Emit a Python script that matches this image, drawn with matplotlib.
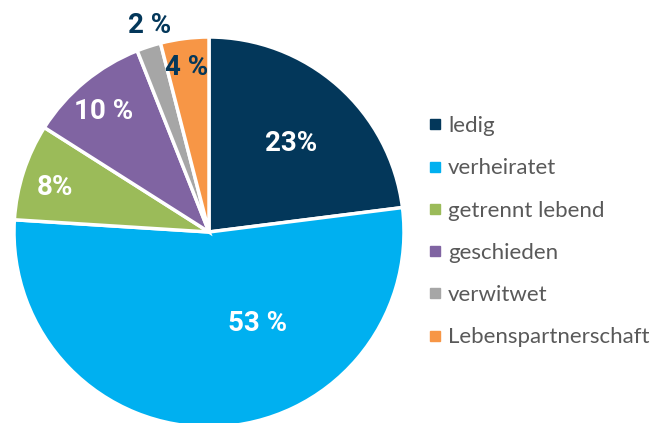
import numpy as np
import matplotlib.pyplot as plt
from matplotlib.lines import Line2D

# Familienstand - Anteile in Prozent
categories = ['ledig', 'verheiratet', 'getrennt lebend', 'geschieden',
              'verwitwet', 'Lebenspartnerschaft']
values = [23, 53, 8, 10, 2, 4]
labels = ['23%', '53 %', '8%', '10 %', '2 %', '4 %']
colors = ['#03375a', '#00b0f0', '#9bbb59', '#8064a2', '#a6a6a6', '#f79646']
label_colors = ['white', 'white', 'white', 'white', '#03375a', '#03375a']
# placement des étiquettes: distance relative au rayon, décalage angulaire
label_dist = [0.62, 0.53, 0.82, 0.82, 1.10, 0.85]
label_shift = [-1.3, 26.0, 2.0, 1.4, -2.0, 0.5]

fig = plt.figure(figsize=(6.64, 4.23), dpi=100)
W, H = 664, 423
cx, cy, r = 209, 232, 195
ax = fig.add_axes([(cx - r) / W, (H - cy - r) / H, 2 * r / W, 2 * r / H])

wedges, _ = ax.pie(values, colors=colors, startangle=90, counterclock=False,
                   radius=1, wedgeprops=dict(edgecolor='white', linewidth=2.5))
ax.set_xlim(-1, 1)
ax.set_ylim(-1, 1)
ax.set_aspect('auto')
ax.axis('off')

for w, lab, col, d, s in zip(wedges, labels, label_colors, label_dist, label_shift):
    ang = np.deg2rad((w.theta1 + w.theta2) / 2 + s)
    ax.text(d * np.cos(ang), d * np.sin(ang), lab, ha='center', va='center',
            color=col, fontsize=20, fontweight='bold', family='Roboto',
            clip_on=False)

handles = [Line2D([], [], marker='s', linestyle='', markersize=7.5,
                  markerfacecolor=c, markeredgecolor=c) for c in colors]
fig.legend(handles, categories, loc='center left', bbox_to_anchor=(0.632, 0.452),
           frameon=False, prop={'family': 'Lato', 'size': 16},
           labelcolor='#595959', handlelength=0.6, handletextpad=0.28,
           labelspacing=1.0, borderaxespad=0)

fig.savefig('out.png', dpi=100)
